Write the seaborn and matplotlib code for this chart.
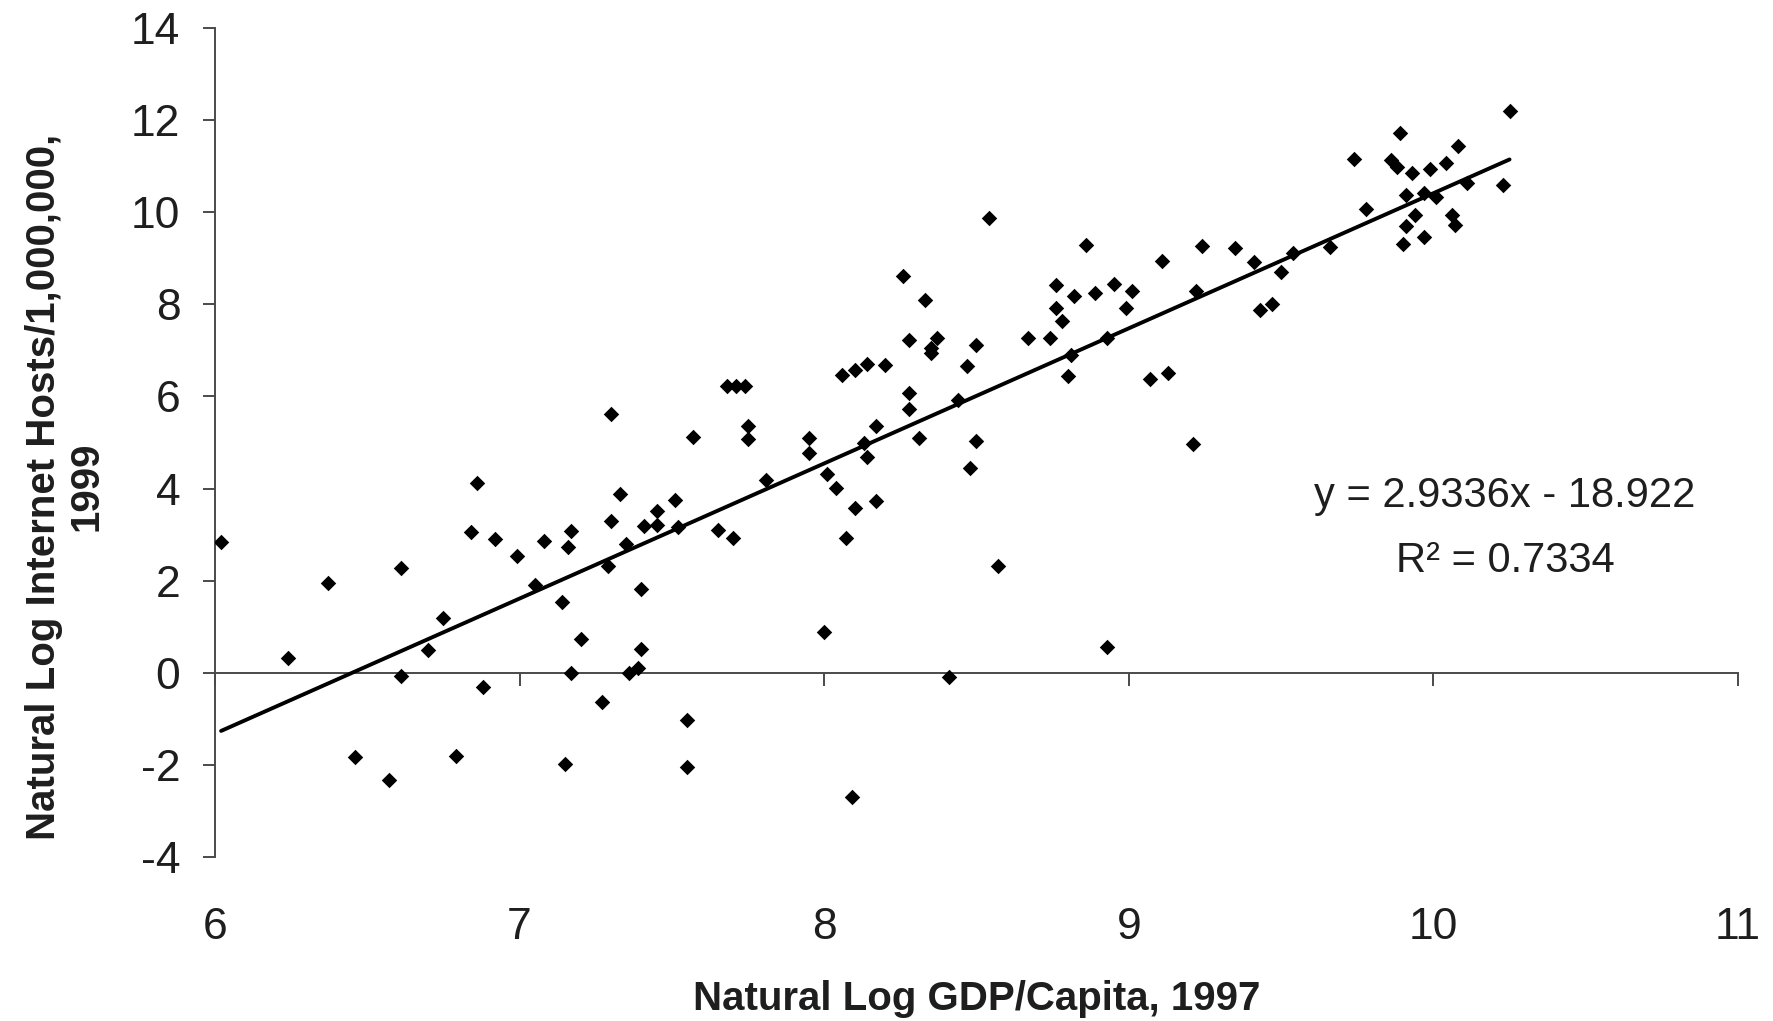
import matplotlib
matplotlib.use("Agg")
import matplotlib.pyplot as plt
from matplotlib import font_manager
import numpy as np
import pandas as pd
import seaborn as sns

# Natural log of GDP per capita (1997) for each country
ln_gdp = [
    6.02, 6.24, 6.37, 6.46, 6.57, 6.61, 6.61, 6.70, 6.75, 6.79,
    6.84, 6.86, 6.88, 6.92, 6.99, 7.05, 7.08, 7.14, 7.15, 7.16,
    7.17, 7.17, 7.20, 7.27, 7.29, 7.30, 7.30, 7.33, 7.35, 7.36,
    7.39, 7.40, 7.40, 7.41, 7.45, 7.45, 7.51, 7.52, 7.55, 7.55,
    7.57, 7.65, 7.68, 7.70, 7.71, 7.74, 7.75, 7.75, 7.81,
    7.95, 7.95, 8.00, 8.01, 8.04, 8.06, 8.07, 8.09, 8.10, 8.10,
    8.13, 8.14, 8.14, 8.17, 8.17, 8.20, 8.26, 8.28, 8.28, 8.28,
    8.31, 8.33, 8.35, 8.35, 8.37, 8.41, 8.44, 8.47, 8.48, 8.50,
    8.50, 8.54, 8.57, 8.67, 8.74, 8.76, 8.76, 8.78, 8.80, 8.81,
    8.82, 8.86, 8.89, 8.93, 8.93, 8.95, 8.99, 9.01, 9.07, 9.11,
    9.13, 9.21, 9.22, 9.24, 9.35, 9.41, 9.43, 9.47, 9.50, 9.54,
    9.66, 9.74, 9.78, 9.86, 9.88, 9.89, 9.90, 9.91, 9.91, 9.93,
    9.94, 9.97, 9.97, 9.99, 10.01, 10.04, 10.06, 10.07, 10.08, 10.11,
    10.23, 10.25,
]

# Natural log of Internet hosts per 1,000,000 people (1999)
ln_hosts = [
    2.83, 0.32, 1.94, -1.83, -2.33, 2.27, -0.06, 0.50, 1.18, -1.80,
    3.06, 4.12, -0.30, 2.91, 2.54, 1.91, 2.87, 1.54, -1.99, 2.74,
    -0.01, 3.07, 0.74, -0.64, 2.31, 3.30, 5.62, 3.89, 2.80, -0.01,
    0.11, 1.81, 0.52, 3.19, 3.52, 3.20, 3.75, 3.17, -2.04, -1.02,
    5.12, 3.10, 6.23, 2.92, 6.23, 6.22, 5.37, 5.08, 4.19,
    5.10, 4.77, 0.89, 4.31, 4.02, 6.46, 2.92, -2.70, 6.57, 3.57,
    4.98, 6.70, 4.68, 5.37, 3.72, 6.69, 8.61, 7.22, 6.08, 5.72,
    5.09, 8.09, 7.05, 6.94, 7.28, -0.10, 5.92, 6.67, 4.44, 7.11,
    5.04, 9.87, 2.32, 7.26, 7.26, 8.43, 7.92, 7.63, 6.45, 6.91,
    8.19, 9.28, 8.25, 7.28, 0.55, 8.44, 7.92, 8.29, 6.37, 8.95,
    6.52, 4.97, 8.29, 9.27, 9.23, 8.91, 7.87, 8.01, 8.70, 9.11,
    9.24, 11.15, 10.08, 11.14, 10.98, 11.73, 9.32, 10.38, 9.71, 10.85,
    9.94, 10.42, 9.47, 10.93, 10.34, 11.08, 9.95, 9.73, 11.44, 10.63,
    10.60, 12.19,
]

# Linear trend line reported for the series
fit_slope = 2.9336
fit_intercept = -18.922
r_squared = 0.7334

x_ticks = [6, 7, 8, 9, 10, 11]
y_ticks = [-4, -2, 0, 2, 4, 6, 8, 10, 12, 14]

x_title = "Natural Log GDP/Capita, 1997"
y_title = "Natural Log Internet Hosts/1,000,000,\n1999"

df = pd.DataFrame({"gdp": ln_gdp, "hosts": ln_hosts})

sns.set_theme(style="white")
available = {f.name for f in font_manager.fontManager.ttflist}
base_font = "Liberation Sans" if "Liberation Sans" in available else "DejaVu Sans"
tick_font = "Liberation Sans Narrow" if "Liberation Sans Narrow" in available else base_font
plt.rcParams["font.family"] = [base_font, "DejaVu Sans"]
plt.rcParams["axes.unicode_minus"] = False

axis_grey = "#4a4a4a"
text_col = "#1e1e1e"

fig = plt.figure(figsize=(17.74, 10.21), dpi=100)
ax = fig.add_axes([0.1212, 0.1606, 0.8585, 0.8119])

sns.scatterplot(data=df, x="gdp", y="hosts", marker="D", s=62,
                color="black", edgecolor="black", linewidth=0, ax=ax,
                legend=False, zorder=3)

# Trend line across the range of the data
xs = np.array([min(ln_gdp), max(ln_gdp)])
ax.plot(xs, fit_slope * xs + fit_intercept, color="black", lw=2.8, zorder=4)

ax.set_xlim(6, 11)
ax.set_ylim(-4, 14)

for side in ("top", "right"):
    ax.spines[side].set_visible(False)
ax.spines["left"].set_color(axis_grey)
ax.spines["left"].set_linewidth(1.4)
ax.spines["bottom"].set_position(("data", 0))
ax.spines["bottom"].set_color(axis_grey)
ax.spines["bottom"].set_linewidth(1.4)

ax.set_xticks(x_ticks)
ax.set_yticks(y_ticks)
ax.tick_params(axis="x", direction="out", length=9, width=1.4,
               color=axis_grey, labelbottom=False, bottom=True)
ax.tick_params(axis="y", direction="out", length=9, width=1.4,
               color=axis_grey, pad=16, left=True)
for lab in ax.get_yticklabels():
    lab.set_fontfamily(tick_font)
    lab.set_fontsize(32)
    lab.set_color(text_col)
ax.set_xlabel("")

# Category labels sit below the plot area, under the lowest value
sec = ax.secondary_xaxis(0)
sec.set_xticks(x_ticks)
sec.spines["bottom"].set_visible(False)
sec.tick_params(axis="x", length=0, pad=36)
for lab in sec.get_xticklabels():
    lab.set_fontfamily(tick_font)
    lab.set_fontsize(32)
    lab.set_color(text_col)
sec.set_xlabel(x_title, fontsize=29, fontweight="bold", color=text_col,
               labelpad=23)

ax.set_ylabel(y_title, fontsize=29, fontweight="bold", color=text_col,
              multialignment="center", linespacing=1.15)
ax.yaxis.set_label_coords(-0.072, 0.447)

ax.text(0.847, 0.4355, f"y = {fit_slope:.4f}x - {abs(fit_intercept):.3f}",
        transform=ax.transAxes, ha="center", va="center", fontsize=30,
        color=text_col)
ax.text(0.847, 0.357, f"R\u00b2 = {r_squared:.4f}",
        transform=ax.transAxes, ha="center", va="center", fontsize=30,
        color=text_col)

fig.savefig("out.png", dpi=100, facecolor="white")
